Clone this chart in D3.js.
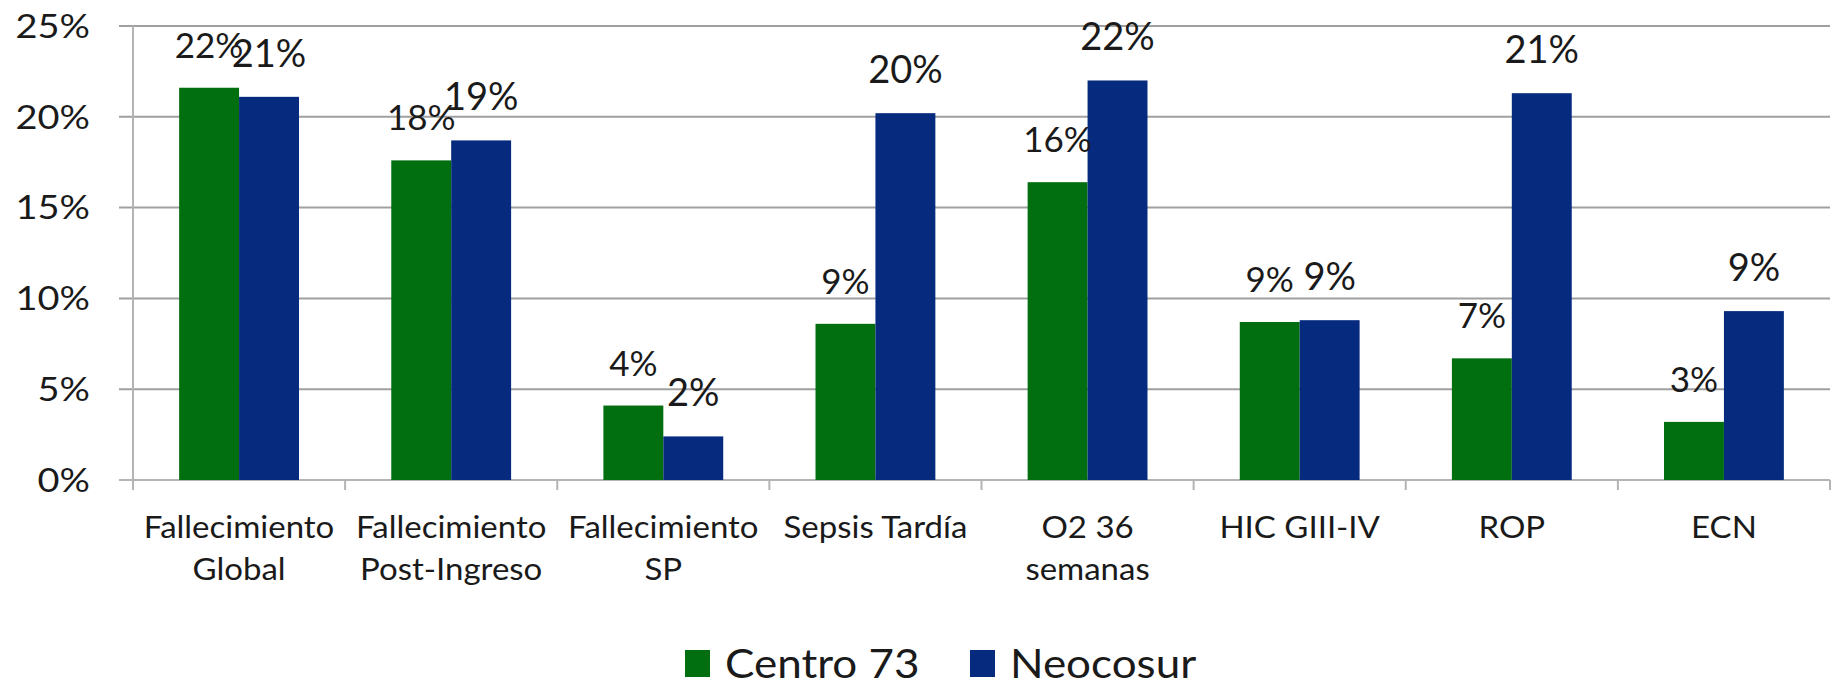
<!DOCTYPE html>
<html lang="es">
<head>
    <meta charset="UTF-8">
    <title>Centro 73 vs Neocosur</title>
    <script src="https://cdn.jsdelivr.net/npm/d3@7/dist/d3.min.js"></script>
    <style>
        body { margin: 0; background: #fff; }
        text { font-family: Lato, "Open Sans", sans-serif; fill: #1a1a1a; }
    </style>
</head>
<body>
<svg width="1841" height="684" id="main"></svg>
<script>
    // categories (two-line labels) and series values in %
    let categories = ['Fallecimiento Global', 'Fallecimiento Post-Ingreso', 'Fallecimiento SP', 'Sepsis Tardía',
        'O2 36 semanas', 'HIC GIII-IV', 'ROP', 'ECN'];
    let labelLines = [['Fallecimiento', 'Global'], ['Fallecimiento', 'Post-Ingreso'], ['Fallecimiento', 'SP'],
        ['Sepsis Tardía'], ['O2 36', 'semanas'], ['HIC GIII-IV'], ['ROP'], ['ECN']];
    let seriesNames = ['Centro 73', 'Neocosur'];
    let centro73 = [21.6, 17.6, 4.1, 8.6, 16.4, 8.7, 6.7, 3.2];
    let neocosur = [21.1, 18.7, 2.4, 20.2, 22.0, 8.8, 21.3, 9.3];
    let yTicks = [0, 5, 10, 15, 20, 25];

    let colors = {'Centro 73': '#016e0f', 'Neocosur': '#052a7e'};
    let labelSize = {'Centro 73': 35, 'Neocosur': 38};

    let svg = d3.select('#main');
    let margin = {top: 26, left: 133, right: 11, bottom: 204};
    const width = +svg.attr('width');
    const height = +svg.attr('height');
    const x0 = margin.left, x1 = width - margin.right;
    const yBottom = height - margin.bottom;

    let xScale = d3.scaleBand().domain(categories).range([x0, x1]).padding(0);
    let xInner = d3.scaleBand().domain(seriesNames).range([0, xScale.bandwidth()])
        .paddingInner(0).paddingOuter(0.77);
    let yScale = d3.scaleLinear().domain([0, 25]).range([yBottom, margin.top]);

    let data = [];
    categories.forEach((c, i) => {
        data.push({cat: c, series: 'Centro 73', value: centro73[i]});
        data.push({cat: c, series: 'Neocosur', value: neocosur[i]});
    });

    // the source text is a bit wider than Lato, so stretch it horizontally
    function place(x, y, sx) {
        return `translate(${x},${y}) scale(${sx},1)`;
    }

    // gridlines + y labels
    let grid = svg.append('g');
    yTicks.forEach(t => {
        grid.append('line')
            .attr('x1', x0 - 14).attr('x2', x1)
            .attr('y1', yScale(t)).attr('y2', yScale(t))
            .attr('stroke', t === 0 ? '#b4b4b4' : '#a0a0a0').attr('stroke-width', 2);
        svg.append('text').text(t + '%')
            .attr('transform', place(90, yScale(t), 1.15))
            .attr('dy', '0.36em')
            .attr('text-anchor', 'end')
            .attr('font-size', 33);
    });

    // y axis line
    svg.append('line').attr('x1', x0).attr('x2', x0)
        .attr('y1', margin.top).attr('y2', yBottom + 10)
        .attr('stroke', '#b4b4b4').attr('stroke-width', 2);

    // category ticks under the axis
    categories.forEach(c => {
        let xt = xScale(c) + xScale.bandwidth();
        svg.append('line').attr('x1', xt).attr('x2', xt)
            .attr('y1', yBottom).attr('y2', yBottom + 10)
            .attr('stroke', '#b4b4b4').attr('stroke-width', 2);
    });

    // bars
    data.forEach(d => {
        svg.append('rect')
            .attr('x', xScale(d.cat) + xInner(d.series))
            .attr('y', yScale(d.value))
            .attr('width', xInner.bandwidth())
            .attr('height', yBottom - yScale(d.value))
            .attr('fill', colors[d.series]);
    });

    // value labels
    data.forEach(d => {
        svg.append('text').text(Math.round(d.value) + '%')
            .attr('x', xScale(d.cat) + xInner(d.series) + xInner.bandwidth() / 2)
            .attr('y', yScale(d.value) - 30)
            .attr('text-anchor', 'middle')
            .attr('font-size', labelSize[d.series]);
    });

    // category labels
    categories.forEach((c, i) => {
        let t = svg.append('text')
            .attr('transform', place(xScale(c) + xScale.bandwidth() / 2, 538, 1.1))
            .attr('text-anchor', 'middle')
            .attr('font-size', 30);
        labelLines[i].forEach((line, j) => {
            t.append('tspan').text(line)
                .attr('x', 0)
                .attr('y', j * 42);
        });
    });

    // legend
    let legendX = [685, 970];
    seriesNames.forEach((s, i) => {
        svg.append('rect').attr('x', legendX[i]).attr('y', 650)
            .attr('width', 25).attr('height', 27)
            .attr('fill', colors[s]);
        svg.append('text').text(s)
            .attr('transform', place(legendX[i] + 40, 678, 1.1))
            .attr('font-size', 40);
    });
</script>
</body>
</html>
